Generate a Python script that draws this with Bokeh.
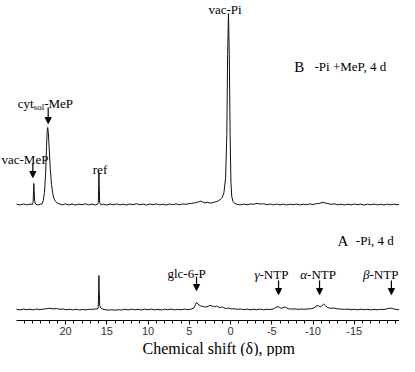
from bokeh.plotting import figure
from bokeh.models import Range1d, FixedTicker, Label, Arrow, NormalHead, ColumnDataSource, Title
from bokeh.embed import file_html
from bokeh.resources import INLINE

# ---- data (chemical shift in ppm, intensity in arbitrary units) ----
ppm_B = [25.94, 25.5, 25.1, 24.7, 24.3, 23.98, 23.92, 23.88, 23.84, 23.8, 23.74, 23.6,
         23.3, 23.05, 22.85, 22.7, 22.55, 22.42, 22.3, 22.22, 22.16, 22.08, 21.98, 21.85,
         21.7, 21.55, 21.4, 21.2, 21.0, 20.7, 20.4, 20.0, 19.6, 19.2, 18.8, 18.4, 18.0,
         17.6, 17.2, 16.8, 16.4, 16.1, 16.02, 15.98, 15.95, 15.92, 15.86, 15.7, 15.4,
         15.0, 14.6, 14.2, 13.8, 13.4, 13.0, 12.6, 12.2, 11.8, 11.4, 11.0, 10.6, 10.2,
         9.8, 9.4, 9.0, 8.6, 8.2, 7.8, 7.4, 7.0, 6.6, 6.2, 5.8, 5.4, 5.0, 4.7, 4.4,
         4.1, 3.8, 3.6, 3.4, 3.1, 2.8, 2.5, 2.2, 1.9, 1.6, 1.3, 1.0, 0.8, 0.6, 0.45,
         0.35, 0.25, 0.15, 0.05, -0.05, -0.15, -0.3, -0.5, -0.8, -1.2, -1.6, -2.0, -2.4,
         -2.8, -3.2, -3.6, -4.0, -4.4, -4.8, -5.2, -5.6, -6.0, -6.4, -6.8, -7.2, -7.6,
         -8.0, -8.4, -8.8, -9.2, -9.6, -10.0, -10.4, -10.8, -11.2, -11.5, -11.8, -12.2,
         -12.6, -13.0, -13.4, -13.8, -14.2, -14.6, -15.0, -15.4, -15.8, -16.2, -16.6,
         -17.0, -17.4, -17.8, -18.2, -18.6, -19.0, -19.4, -19.8, -20.2, -20.48]
int_B = [0.3, -0.4, 0.5, -0.3, 0.4, 0.2, 3, 14, 21, 14, 3, 0.2,
         -0.5, 0.4, 0.5, 4, 12, 30, 58, 74, 77, 72, 56, 36,
         20, 11, 6, 3, 1.5, 0.5, -0.3, 0.6, -0.4, 0.5, -0.5, 0.3, -0.2,
         0.7, -0.3, 0.4, -0.5, 0.3, 2, 20, 32, 20, 2, -0.3, 0.4,
         -0.5, 0.5, -0.3, 0.6, -0.4, 0.3, -0.5, 0.5, -0.2, 0.8, -0.3, 0.4, -0.5,
         0.5, -0.2, 0.6, -0.4, 0.3, -0.5, 0.5, -0.2, 0.6, -0.3, 0.5, 0.2, 0.9, 1.2, 1.5,
         2.0, 2.8, 3.4, 2.6, 1.6, 2.2, 1.5, 1.8, 2.4, 3.2, 4.5, 7, 12, 26, 70,
         150, 191, 150, 70, 22, 8, 3, 1, 0.2, -0.4, 0.5, -0.2, 0.6,
         0.2, 1.2, 0.4, 0.8, -0.2, 0.5, -0.4, 0.5, -0.3, 0.4, -0.5, 0.3, -0.2,
         0.5, -0.4, 0.3, -0.3, 0.6, 0.0, 0.8, 1.2, 2.2, 1.5, 0.9, 0.2,
         0.6, -0.3, 0.4, -0.5, 0.3, -0.4, 0.5, -0.2, 0.4, -0.5, 0.3,
         -0.3, 0.5, -0.4, 0.2, -0.5, 0.4, -0.3, 0.3, -0.2, 0.2]

ppm_A = [25.94, 25.5, 25.1, 24.7, 24.3, 23.9, 23.5, 23.1, 22.7, 22.3, 21.9, 21.5, 21.1,
         20.7, 20.3, 19.9, 19.5, 19.1, 18.7, 18.3, 17.9, 17.5, 17.1, 16.7, 16.35, 16.1,
         16.03, 15.98, 15.95, 15.92, 15.86, 15.72, 15.5, 15.2, 14.8, 14.4, 14.0, 13.6,
         13.2, 12.8, 12.4, 12.0, 11.6, 11.2, 10.8, 10.4, 10.0, 9.6, 9.2, 8.8, 8.4, 8.0,
         7.6, 7.2, 6.8, 6.4, 6.0, 5.6, 5.2, 4.8, 4.45, 4.25, 4.12, 3.95, 3.8, 3.6, 3.3,
         3.0, 2.7, 2.5, 2.3, 2.1, 1.9, 1.7, 1.5, 1.2, 1.0, 0.8, 0.5, 0.2, -0.1, -0.4,
         -0.8, -1.2, -1.6, -2.0, -2.4, -2.8, -3.2, -3.6, -4.0, -4.4, -4.8, -5.2, -5.5,
         -5.75, -5.95, -6.15, -6.35, -6.55, -6.75, -7.0, -7.4, -7.8, -8.2, -8.6, -9.0,
         -9.4, -9.8, -10.1, -10.4, -10.65, -10.85, -11.05, -11.3, -11.55, -11.8, -12.2,
         -12.6, -13.0, -13.4, -13.8, -14.2, -14.6, -15.0, -15.4, -15.8, -16.2, -16.6,
         -17.0, -17.4, -17.8, -18.2, -18.6, -19.0, -19.4, -19.8, -20.2, -20.48]
int_A = [0.2, -0.3, 0.4, -0.2, 0.3, -0.4, 0.5, -0.2, 0.4, 0.8, 1.2, 0.6, 1.0,
         0.2, 0.5, -0.3, 0.3, -0.4, 0.2, -0.5, 0.0, -0.4, 0.3, 0.1, 0.6, 0.6,
         3, 20, 34, 20, 4, 1.5, 0.5, -0.2, -0.6, -0.3, -0.7, -0.2,
         -0.5, 0.2, -0.4, 0.3, -0.3, 0.2, -0.5, 0.3, -0.3, 0.4, -0.4, 0.2, -0.5, 0.3,
         -0.2, 0.4, -0.4, 0.2, -0.3, 0.4, -0.2, 0.3, 1.5, 5, 7, 5.5, 4.5, 3.5, 3.0,
         2.4, 3.2, 4.2, 3.6, 3.2, 2.6, 3.4, 2.4, 2.0, 2.6, 1.6, 1.0, 1.4, 0.6, 0.8,
         0.2, 0.5, -0.2, 0.4, -0.3, 0.3, -0.2, 0.4, -0.3, 0.2, 0.0, 0.6, 2.0,
         3.0, 2.0, 1.2, 1.8, 2.6, 1.8, 0.8, 0.4, 0.6, 0.1, 0.5, 0.2,
         0.6, 0.8, 1.5, 3.4, 4.0, 2.5, 3.6, 5.5, 3.5, 1.8, 1.2,
         1.4, 0.6, 0.4, 0.1, 0.4, -0.2, 0.2, -0.3, 0.3, -0.2, 0.2,
         -0.4, 0.1, -0.3, 0.2, 0.0, 0.8, 1.4, 0.6, -0.2, 0.1]

tick_values = [20, 15, 10, 5, 0, -5, -10, -15]
tick_labels = ["20", "15", "10", "5", "0", "-5", "-10", "-15"]
minor_tick_values = list(range(25, -21, -1))

spectrum_B_labels = ["vac-Pi", "ref"]
spectrum_B_label_ppm = [0.67, 15.82]
arrow_B_ppm = [23.96, 22.1]          # vac-MeP, cyt_sol-MeP
arrow_A_labels = ["glc-6-P", "γ-NTP", "α-NTP", "β-NTP"]
arrow_A_ppm = [4.12, -5.82, -10.79, -19.5]

OFFSET_A = 13
OFFSET_B = 118
FONT = "Liberation Serif"

p = figure(width=399, height=356, output_backend="svg", toolbar_location=None,
           x_range=Range1d(27.88, -20.48), y_range=Range1d(2, 322),
           y_axis_location=None,
           min_border_left=0, min_border_right=0, min_border_top=0, min_border_bottom=30)
p.outline_line_color = None
p.grid.visible = False
p.background_fill_color = "white"
p.border_fill_color = "white"

srcB = ColumnDataSource(dict(x=ppm_B, y=[v + OFFSET_B for v in int_B]))
srcA = ColumnDataSource(dict(x=ppm_A, y=[v + OFFSET_A for v in int_A]))
p.line("x", "y", source=srcB, line_color="#111111", line_width=1)
p.line("x", "y", source=srcA, line_color="#111111", line_width=1)

ax = p.xaxis[0]
ax.ticker = FixedTicker(ticks=tick_values, minor_ticks=minor_tick_values)
ax.major_label_overrides = {v: s for v, s in zip(tick_values, tick_labels)}
ax.bounds = (-20.48, 25.94)
ax.axis_line_color = "black"
ax.major_tick_line_color = "black"
ax.minor_tick_line_color = "black"
ax.major_tick_out = 4
ax.major_tick_in = 0
ax.minor_tick_out = 3
ax.minor_tick_in = 0
ax.major_label_standoff = 2
ax.major_label_text_font = "Liberation Sans"
ax.major_label_text_font_size = "11px"
ax.major_label_text_color = "#333333"

p.add_layout(Title(text="Chemical shift (δ), ppm", align="left", offset=142, standoff=0,
                   text_font=FONT, text_font_size="16px", text_font_style="normal",
                   text_color="black"), "below")


def lab(text, x, y, size="13px", align="left", style="normal", xo=0, yo=0):
    p.add_layout(Label(x=x, y=y, text=text, text_font=FONT, text_font_size=size,
                       text_align=align, text_baseline="alphabetic",
                       text_font_style=style, text_color="black",
                       x_offset=xo, y_offset=yo))


def arrow(x, y0, y1):
    p.add_layout(Arrow(end=NormalHead(size=6, fill_color="black", line_color="black",
                                      line_width=1),
                       x_start=x, y_start=y0, x_end=x, y_end=y1,
                       line_color="black", line_width=1.2))


# trace B labels
lab(spectrum_B_labels[0], spectrum_B_label_ppm[0], 313, align="center")
lab(spectrum_B_labels[1], spectrum_B_label_ppm[1], 153, align="center")
lab("vac-MeP", 27.76, 163)
arrow(arrow_B_ppm[0], 159, 145)
lab("cyt", 25.8, 219)
lab("sol", 25.8, 219, size="9px", xo=16, yo=-3)
lab("-MeP", 25.8, 219, xo=26.5)
arrow(arrow_B_ppm[1], 215, 199)
lab("B", -7.72, 256, size="15px")
lab("-Pi +MeP, 4 d", -10.18, 256, size="13px")

# trace A labels
lab("A", -12.97, 82, size="15px")
lab("-Pi, 4 d", -15.19, 82, size="13px")
lab(arrow_A_labels[0], 5.33, 49, align="center")
arrow(arrow_A_ppm[0], 46, 32)
for name, cx, ax_ppm in zip(arrow_A_labels[1:], [-4.85, -10.61, -18.18], arrow_A_ppm[1:]):
    lab(name[0], cx, 48, align="right", style="italic", xo=-11)
    lab(name[1:], cx, 48, align="left", xo=-11)
    arrow(ax_ppm, 42, 28)

open("out.html", "w").write(file_html(p, INLINE))
